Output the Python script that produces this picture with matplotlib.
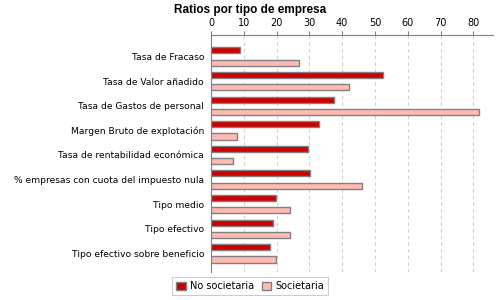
import numpy as np
import matplotlib
matplotlib.use("Agg")
import matplotlib.pyplot as plt

categorias = ["Tasa de Fracaso", "Tasa de Valor añadido", "Tasa de Gastos de personal",
              "Margen Bruto de explotación", "Tasa de rentabilidad económica",
              "% empresas con cuota del impuesto nula", "Tipo medio", "Tipo efectivo",
              "Tipo efectivo sobre beneficio"]
no_societaria = [8.8, 52.6, 37.6, 33.0, 29.6, 30.2, 19.8, 18.9, 18.0]
societaria = [26.8, 42.1, 81.6, 7.9, 6.6, 45.9, 24.2, 24.2, 19.8]
ticks_x = [0, 10, 20, 30, 40, 50, 60, 70, 80]

fig = plt.figure(figsize=(5, 3), dpi=100)
ax = fig.add_axes([0.422, 0.093, 0.564, 0.79])

y = np.arange(len(categorias))
h = 0.25
ax.barh(y - h, no_societaria, height=h, color="#cc0000", edgecolor="#808080", linewidth=1, label="No societaria", zorder=3)
ax.barh(y + h, societaria, height=h, color="#ffbbb3", edgecolor="#808080", linewidth=1, label="Societaria", zorder=3)

ax.set_xlim(0, 86)
ax.set_ylim(8.76, -0.87)
ax.set_xticks(ticks_x)
ax.xaxis.tick_top()
ax.tick_params(axis="x", labelsize=7, length=3, pad=2, color="#808080")
ax.set_yticks(y)
ax.set_yticklabels(categorias, fontsize=6.6)
ax.tick_params(axis="y", length=0, pad=5)
ax.grid(axis="x", linestyle=(0, (3, 3)), color="#d0d0d0", linewidth=0.8, zorder=0)
for s in ["right", "bottom"]:
    ax.spines[s].set_visible(False)
for s in ["left", "top"]:
    ax.spines[s].set_color("#808080")

fig.suptitle("Ratios por tipo de empresa", fontsize=8.5, fontweight="bold",
             family="Liberation Sans", x=0.5, y=0.985)
leg = fig.legend(loc="lower center", bbox_to_anchor=(0.5, 0.0), ncol=2, fontsize=7,
                 handlelength=1, handleheight=1, handletextpad=0.4, columnspacing=0.8,
                 frameon=True, fancybox=False, borderpad=0.4)
leg.get_frame().set_edgecolor("#c0c0c0")
leg.get_frame().set_linewidth(0.8)

fig.savefig("out.png", dpi=100)
